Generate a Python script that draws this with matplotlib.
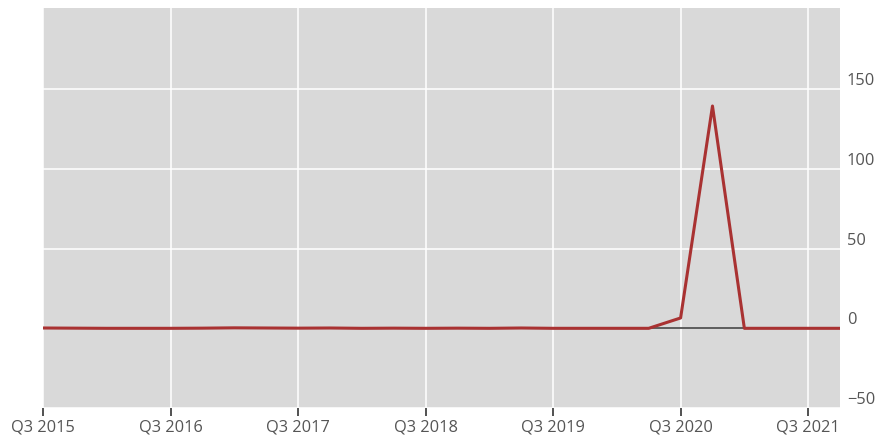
import matplotlib.pyplot as plt
from matplotlib.transforms import offset_copy

plt.rcParams['font.family'] = ['Open Sans', 'DejaVu Sans']

# quarterly series, Q3 2015 .. Q4 2021
quarters = ['Q3 2015', 'Q4 2015', 'Q1 2016', 'Q2 2016', 'Q3 2016', 'Q4 2016',
            'Q1 2017', 'Q2 2017', 'Q3 2017', 'Q4 2017', 'Q1 2018', 'Q2 2018',
            'Q3 2018', 'Q4 2018', 'Q1 2019', 'Q2 2019', 'Q3 2019', 'Q4 2019',
            'Q1 2020', 'Q2 2020', 'Q3 2020', 'Q4 2020', 'Q1 2021', 'Q2 2021',
            'Q3 2021', 'Q4 2021']
values = [0.2, 0.1, 0.0, 0.0, 0.0, 0.1, 0.3, 0.2, 0.1, 0.2, 0.0, 0.1,
          0.0, 0.1, 0.0, 0.2, 0.0, 0.0, 0.0, 0.0, 6.5, 139.5, 0.0, 0.0,
          0.0, 0.0]
y_ticks = [-50, 0, 50, 100, 150]

x = list(range(len(quarters)))
x_ticks = [i for i, q in enumerate(quarters) if q.startswith('Q3')]

fig = plt.figure(figsize=(8.79, 4.43), dpi=100)
ax = fig.add_axes([43 / 879, 1 - 408 / 443, (840 - 43) / 879, 400 / 443])
ax.set_facecolor('#d9d9d9')
for s in ax.spines.values():
    s.set_visible(False)

ax.set_xlim(0, len(quarters) - 1)
ax.set_ylim(-50, 201)

ax.grid(True, color='white', linewidth=1.1)
ax.set_axisbelow(True)

ax.axhline(0, color='#333333', linewidth=1.1, zorder=2)
ax.plot(x, values, color='#a93232', linewidth=2.2, zorder=3)

ax.set_xticks(x_ticks)
ax.set_xticklabels([quarters[i] for i in x_ticks])
ax.tick_params(axis='x', length=6, width=1.2, color='#333333',
               labelcolor='#555555', labelsize=11.8, pad=2)

ax.yaxis.tick_right()
ax.set_yticks(y_ticks)
ax.set_yticklabels([str(v).replace('-', '\u2212') for v in y_ticks])
ax.tick_params(axis='y', length=0, labelcolor='#555555', labelsize=11.8, pad=5)
for lab in ax.get_yticklabels():
    lab.set_verticalalignment('bottom')
    lab.set_transform(offset_copy(lab.get_transform(), fig=fig, x=0, y=0, units='points'))

fig.savefig('out.png', dpi=100)
